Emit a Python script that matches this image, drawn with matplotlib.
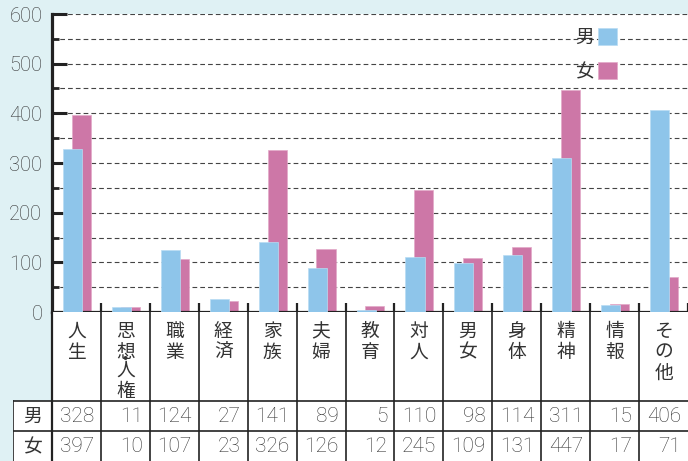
import numpy as np
import matplotlib
matplotlib.use("Agg")
import matplotlib.pyplot as plt
from matplotlib.ticker import MultipleLocator, FixedLocator, NullLocator
from matplotlib.patches import Rectangle, Patch

# ---------------- data ----------------
categories = ['人生', '思想・人権', '職業', '経済', '家族', '夫婦', '教育',
              '対人', '男女', '身体', '精神', '情報', 'その他']
male = [328, 11, 124, 27, 141, 89, 5, 110, 98, 114, 311, 15, 406]
female = [397, 10, 107, 23, 326, 126, 12, 245, 109, 131, 447, 17, 71]
series_labels = ['男', '女']
y_ticks = [0, 100, 200, 300, 400, 500, 600]

# ---------------- style ----------------
BG = '#dff1f4'
BLUE = '#8ec5ea'
PINK = '#cd77a7'
TXT = '#333333'
LINE = '#222222'
CJK = ['Noto Sans CJK JP', 'DejaVu Sans']
NUM = ['Roboto', 'DejaVu Sans']
plt.rcParams['lines.scale_dashes'] = False

W, H = 688, 461
fig = plt.figure(figsize=(W / 100, H / 100), dpi=100, facecolor=BG)

left_px, axis_row, top_row = 52, 312, 14
ax = fig.add_axes([left_px / W, (H - axis_row) / H, (W - left_px) / W,
                   (axis_row - top_row) / H])
ax.set_facecolor('white')
n = len(categories)
x = np.arange(n)
ax.bar(x + 0.10, female, width=0.39, color=PINK, zorder=2,
       edgecolor='#e3a9c8', linewidth=0.5)
ax.bar(x - 0.08, male, width=0.39, color=BLUE, zorder=3,
       edgecolor='#b9dcf3', linewidth=0.5)
ax.set_xlim(-0.5, n - 0.5)
ax.set_ylim(0, 600)
ax.set_axisbelow(True)

ax.yaxis.set_major_locator(FixedLocator(y_ticks))
ax.yaxis.set_minor_locator(MultipleLocator(50))
ax.xaxis.set_major_locator(NullLocator())
ax.xaxis.set_minor_locator(FixedLocator(np.arange(n) + 0.5))
ax.tick_params(axis='y', which='major', direction='in', length=10.5, width=2.2,
               color=LINE, pad=7.0, labelsize=14.5, labelcolor=TXT)
ax.tick_params(axis='y', which='minor', direction='in', length=4.7, width=2.0,
               color=LINE)
ax.tick_params(axis='x', which='minor', direction='in', length=6.5, width=1.6,
               color=LINE)
for lab in ax.get_yticklabels():
    lab.set_family(NUM)
    lab.set_weight('light')
ax.grid(axis='y', which='both', color='#444444', linewidth=0.8,
        linestyle=(0, (3.4, 2.2)))
for s in ['top', 'right']:
    ax.spines[s].set_visible(False)
ax.spines['left'].set_linewidth(2.3)
ax.spines['bottom'].set_linewidth(2.3)
ax.spines['left'].set_color(LINE)
ax.spines['bottom'].set_color(LINE)

handles = [Patch(facecolor=BLUE, edgecolor='#b9dcf3', linewidth=0.5),
           Patch(facecolor=PINK, edgecolor='#e3a9c8', linewidth=0.5)]
leg = ax.legend(handles, series_labels, loc='upper right',
                bbox_to_anchor=((617 - left_px) / (W - left_px),
                                (axis_row - 27) / (axis_row - top_row)),
                markerfirst=False, frameon=False, handlelength=1.0,
                handleheight=1.0, handletextpad=0.25, labelspacing=0.7,
                borderpad=0, borderaxespad=0,
                prop={'family': CJK, 'size': 13.5})
for t in leg.get_texts():
    t.set_color(TXT)

# ---------------- table below ----------------
cw = (W - left_px) / n
tab_left_px = 13
xL = -0.5 - (left_px - tab_left_px) / cw
tax = fig.add_axes([tab_left_px / W, 0, (W - tab_left_px) / W, (H - axis_row) / H])
tax.set_xlim(xL, n - 0.5)
tax.set_ylim(0, H - axis_row)
tax.axis('off')
top_y = H - axis_row
row1 = H - 401
row2 = H - 431
tax.add_patch(Rectangle((-0.5, 0), n, top_y, facecolor='white', edgecolor='none', zorder=0))
tax.add_patch(Rectangle((xL, 0), -0.5 - xL, row1, facecolor='white', edgecolor='none', zorder=0))
lw_t = 1.2
tax.plot([xL, n - 0.5], [row1, row1], color=LINE, lw=lw_t, solid_capstyle='butt')
tax.plot([xL, n - 0.5], [row2, row2], color=LINE, lw=lw_t, solid_capstyle='butt')
tax.plot([xL, xL], [0, row1], color=LINE, lw=lw_t)
tax.plot([-0.5, -0.5], [0, top_y], color=LINE, lw=1.6)
for k in range(n - 1):
    tax.plot([k + 0.5, k + 0.5], [0, top_y], color=LINE, lw=lw_t)

# vertical category labels (one text block per run of characters)
LS = 0.98
for i, lab in enumerate(categories):
    parts = lab.split('・')
    if len(parts) == 1:
        tax.text(i, H - 321, '\n'.join(lab), ha='center', va='top',
                 family=CJK, fontsize=13.5, color=TXT, linespacing=LS)
    else:
        tax.text(i, H - 321, '\n'.join(parts[0]), ha='center', va='top',
                 family=CJK, fontsize=13.5, color=TXT, linespacing=LS)
        tax.text(i, H - 359, '・', ha='center', va='center',
                 family=CJK, fontsize=11, color=TXT, weight='bold')
        tax.text(i, H - 360, '\n'.join(parts[1]), ha='center', va='top',
                 family=CJK, fontsize=13.5, color=TXT, linespacing=LS)

# row headers and values
xh = (xL - 0.5) / 2
for lab, vals, row in [(series_labels[0], male, 416.5), (series_labels[1], female, 446.5)]:
    tax.text(xh, H - row, lab, ha='center', va='center', family=CJK,
             fontsize=13.5, color=TXT)
    for i, v in enumerate(vals):
        tax.text(i + 0.5 - 7 / cw, H - row, str(v), ha='right', va='center',
                 family=NUM, weight='light', fontsize=15, color=TXT)

fig.savefig('out.png', dpi=100, facecolor=BG)
